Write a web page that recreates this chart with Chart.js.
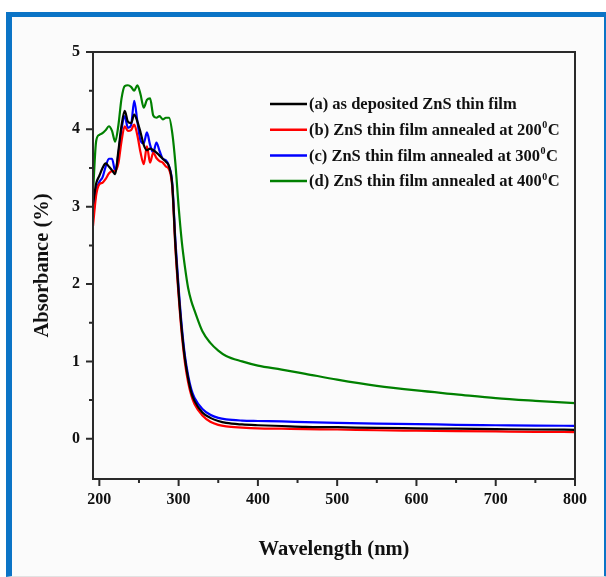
<!DOCTYPE html>
<html>
<head>
<meta charset="utf-8">
<script src="https://cdn.jsdelivr.net/npm/chart.js@4.4.1/dist/chart.umd.min.js"></script>
<style>
  html, body { margin: 0; padding: 0; background: #fff; overflow: hidden; }
  #frame {
    position: absolute; left: 6px; top: 12px; width: 592px; height: 559px;
    border-left: 6px solid #0b74c6; border-top: 5px solid #0b74c6;
    border-right: 6px solid #0b74c6; border-bottom: 1px solid #e2e2e2;
    background: #fbfbfb;
  }
  #chart { position: absolute; left: 0; top: 0; }
</style>
</head>
<body>
<div id="frame"></div>
<canvas id="chart" width="606" height="577"></canvas>
<script>
// wavelength grid (nm) and absorbance
const wavelength = [192, 196, 200, 204, 208, 212, 216, 220, 224, 228, 232, 236, 240, 244, 248, 252,
  256, 260, 264, 268, 272, 276, 280, 284, 288, 292, 296, 300, 304, 308, 312, 316, 320, 330, 340,
  350, 360, 380, 400, 430, 460, 500, 550, 600, 650, 700, 750, 800];

const absAsDeposited = [3.03, 3.30, 3.40, 3.50, 3.56, 3.52, 3.47, 3.42, 3.72, 4.05, 4.24, 4.10, 4.08, 4.19, 4.10, 3.96,
  3.80, 3.73, 3.75, 3.73, 3.70, 3.66, 3.62, 3.58, 3.52, 3.28, 2.50, 1.90, 1.40, 1.03, 0.78, 0.60, 0.49, 0.34, 0.27,
  0.23, 0.205, 0.185, 0.175, 0.165, 0.155, 0.15, 0.14, 0.135, 0.13, 0.125, 0.12, 0.116];

const abs200 = [2.75, 3.15, 3.29, 3.31, 3.36, 3.43, 3.46, 3.46, 3.56, 3.85, 4.04, 3.98, 3.99, 4.06, 3.92, 3.70,
  3.55, 3.78, 3.57, 3.70, 3.63, 3.59, 3.57, 3.52, 3.48, 3.25, 2.45, 1.85, 1.35, 0.98, 0.73, 0.56, 0.45, 0.30, 0.22,
  0.18, 0.16, 0.145, 0.135, 0.13, 0.125, 0.12, 0.11, 0.105, 0.10, 0.095, 0.09, 0.087];

const abs300 = [2.86, 3.20, 3.32, 3.38, 3.52, 3.62, 3.62, 3.46, 3.68, 4.00, 4.17, 4.02, 4.05, 4.37, 4.10, 3.85,
  3.82, 3.96, 3.80, 3.70, 3.83, 3.72, 3.62, 3.60, 3.52, 3.30, 2.55, 1.95, 1.45, 1.07, 0.82, 0.64, 0.53, 0.385, 0.31,
  0.27, 0.25, 0.235, 0.23, 0.225, 0.215, 0.205, 0.195, 0.19, 0.18, 0.175, 0.17, 0.168];

const abs400 = [3.18, 3.85, 3.93, 3.95, 3.99, 4.04, 3.98, 3.84, 4.05, 4.40, 4.56, 4.57, 4.55, 4.50, 4.57, 4.45,
  4.28, 4.38, 4.40, 4.18, 4.15, 4.17, 4.13, 4.15, 4.15, 3.95, 3.55, 3.00, 2.55, 2.22, 1.95, 1.78, 1.66, 1.39, 1.24,
  1.14, 1.07, 1.00, 0.945, 0.895, 0.84, 0.765, 0.685, 0.625, 0.575, 0.525, 0.49, 0.46];

const seriesLabels = [
  '(a) as deposited ZnS thin film',
  '(b) ZnS thin film annealed at 200⁰C',
  '(c) ZnS thin film annealed at 300⁰C',
  '(d) ZnS thin film annealed at 400⁰C'
];

const xTicks = [200, 300, 400, 500, 600, 700, 800];
const xMinorTicks = [250, 350, 450, 550, 650, 750];
const yTicks = [0, 1, 2, 3, 4, 5];
const yMinorTicks = [0.5, 1.5, 2.5, 3.5, 4.5];

const serif = '"Liberation Serif", "Times New Roman", serif';

function toPoints(values) {
  return wavelength.map((w, i) => ({ x: w, y: values[i] }));
}

function makeSet(label, values, color) {
  return {
    label: label,
    data: toPoints(values),
    borderColor: color,
    backgroundColor: color,
    borderWidth: 2.2,
    pointRadius: 0,
    cubicInterpolationMode: 'monotone',
    fill: false
  };
}

// box around the plot, with outward ticks on the left and bottom
var axesBox = {
  id: 'axesBox',
  afterDraw(chart) {
    var ctx = chart.ctx;
    var a = chart.chartArea;
    var x = chart.scales.x, y = chart.scales.y;
    ctx.save();
    ctx.strokeStyle = '#2a2a2a';
    ctx.lineWidth = 2;
    ctx.strokeRect(a.left, a.top, a.right - a.left, a.bottom - a.top);
    ctx.beginPath();
    xTicks.forEach(v => {
      var px = x.getPixelForValue(v);
      ctx.moveTo(px, a.bottom); ctx.lineTo(px, a.bottom + 7);
    });
    xMinorTicks.forEach(v => {
      var px = x.getPixelForValue(v);
      ctx.moveTo(px, a.bottom); ctx.lineTo(px, a.bottom + 4);
    });
    yTicks.forEach(v => {
      var py = y.getPixelForValue(v);
      ctx.moveTo(a.left, py); ctx.lineTo(a.left - 7, py);
    });
    yMinorTicks.forEach(v => {
      var py = y.getPixelForValue(v);
      ctx.moveTo(a.left, py); ctx.lineTo(a.left - 4, py);
    });
    ctx.stroke();
    ctx.restore();
  }
};

// legend drawn inside the plot area, handles the superscript zero
var innerLegend = {
  id: 'innerLegend',
  afterDatasetsDraw(chart) {
    var ctx = chart.ctx;
    var a = chart.chartArea;
    var x0 = a.left + 177, y0 = a.top + 52;
    ctx.save();
    ctx.textBaseline = 'middle';
    chart.data.datasets.forEach((ds, i) => {
      var yy = y0 + i * 25.7;
      ctx.strokeStyle = ds.borderColor;
      ctx.lineWidth = 2.5;
      ctx.beginPath();
      ctx.moveTo(x0, yy); ctx.lineTo(x0 + 37, yy);
      ctx.stroke();
      ctx.fillStyle = '#111';
      var parts = ds.label.split('⁰');
      var tx = x0 + 39;
      ctx.font = 'bold 16.5px ' + serif;
      ctx.fillText(parts[0], tx, yy + 1);
      tx += ctx.measureText(parts[0]).width;
      if (parts.length > 1) {
        ctx.font = 'bold 10px ' + serif;
        ctx.fillText('0', tx + 0.5, yy - 4);
        tx += ctx.measureText('0').width + 1;
        ctx.font = 'bold 16.5px ' + serif;
        ctx.fillText(parts[1], tx, yy + 1);
      }
    });
    ctx.restore();
  }
};

new Chart(document.getElementById('chart'), {
  type: 'line',
  data: {
    datasets: [
      makeSet(seriesLabels[0], absAsDeposited, '#000000'),
      makeSet(seriesLabels[1], abs200, '#ff0000'),
      makeSet(seriesLabels[2], abs300, '#0000ff'),
      makeSet(seriesLabels[3], abs400, '#008000')
    ]
  },
  options: {
    responsive: false,
    animation: false,
    layout: { padding: { left: 0, right: 31, top: 52, bottom: 0 } },
    plugins: {
      legend: { display: false },
      tooltip: { enabled: false }
    },
    scales: {
      x: {
        type: 'linear',
        min: 192,
        max: 800,
        afterBuildTicks: s => { s.ticks = xTicks.map(v => ({ value: v })); },
        afterFit: s => { s.height = 98; },
        grid: { display: false, drawTicks: false },
        border: { display: false },
        ticks: {
          padding: 11,
          color: '#111',
          font: { family: serif, size: 16, weight: 'bold' },
          maxRotation: 0
        },
        title: {
          display: true,
          text: 'Wavelength (nm)',
          color: '#111',
          font: { family: serif, size: 20.5, weight: 'bold' },
          padding: { top: 0, bottom: 15 }
        }
      },
      y: {
        type: 'linear',
        min: -0.52,
        max: 5,
        afterBuildTicks: s => { s.ticks = yTicks.map(v => ({ value: v })); },
        afterFit: s => { s.width = 93; },
        grid: { display: false, drawTicks: false },
        border: { display: false },
        ticks: {
          padding: 13,
          color: '#111',
          font: { family: serif, size: 16, weight: 'bold' }
        },
        title: {
          display: true,
          text: 'Absorbance (%)',
          color: '#111',
          font: { family: serif, size: 20.5, weight: 'bold' },
          padding: { top: 30, bottom: 0 }
        }
      }
    }
  },
  plugins: [axesBox, innerLegend]
});
</script>
</body>
</html>
